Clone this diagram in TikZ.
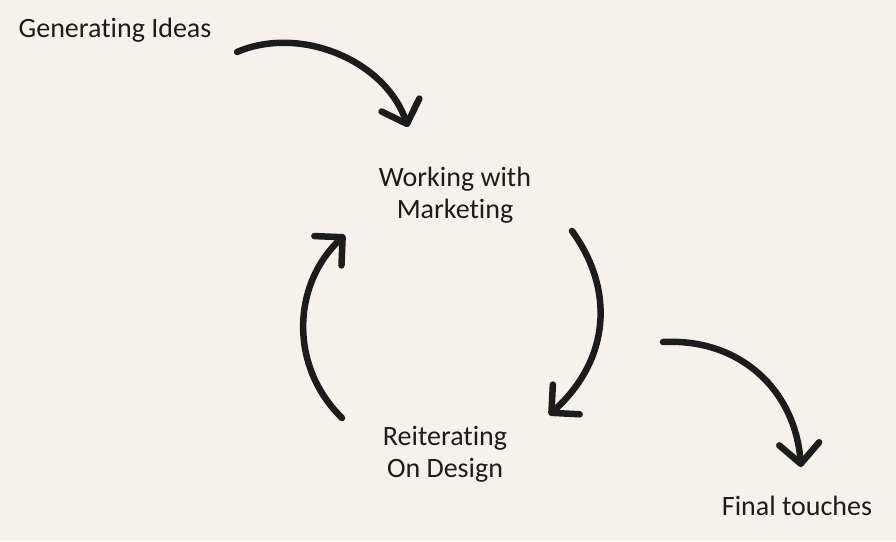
\documentclass[tikz,border=0pt]{standalone}
\usepackage{fontspec}
\setmainfont{Carlito}[Ligatures=NoCommon]
\usepackage{xcolor}
\usepackage{tikz}
\usetikzlibrary{arrows.meta}
\definecolor{paper}{HTML}{F5F2ED}
\definecolor{ink}{HTML}{1C1C1C}

\begin{document}
\begin{tikzpicture}[
    x=1pt, y=-1pt,
    stage/.style={align=center, inner sep=0pt, text=ink,
      font=\fontsize{28}{32}\selectfont},
    flow/.style={draw=ink, line width=6.5pt, line cap=round,
      -{Straight Barb[length=20pt, width=40pt, line cap=round, line join=round]}}
  ]

  % Background
  \fill[paper] (0,0) rectangle (896,541);

  % Stages
  \node[stage, anchor=base] (gen) at (115,37) {Generating Ideas};
  \node[stage] (work) at (455,195) {Working with\\Marketing};
  \node[stage] (reit) at (445,454) {Reiterating\\On Design};
  \node[stage, anchor=base] (final) at (797,515) {Final touches};

  % Arrow ends
  \coordinate (gen-out) at (237,52);
  \coordinate (work-in) at (408,127);
  \coordinate (work-out) at (572,231);
  \coordinate (reit-in) at (549,415);
  \coordinate (reit-out) at (342,418);
  \coordinate (work-back) at (345,235);
  \coordinate (final-out) at (663,342);
  \coordinate (final-in) at (801,467);

  % Arrows
  \draw[flow] (gen-out) .. controls (300,25) and (385,60) .. (work-in);
  \draw[flow] (work-out) .. controls (615,290) and (610,360) .. (reit-in);
  \draw[flow] (reit-out) .. controls (288,365) and (293,283) .. (work-back);
  \draw[flow] (final-out) .. controls (740,338) and (795,390) .. (final-in);

\end{tikzpicture}
\end{document}
